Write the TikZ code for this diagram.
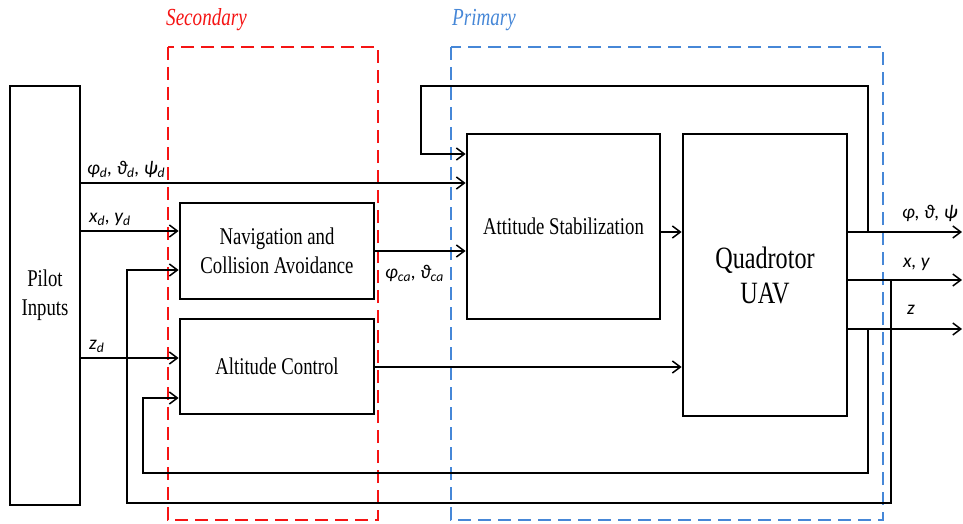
\documentclass[tikz,border=0pt]{standalone}
\usepackage{fontspec}
\setmainfont{Liberation Serif}
\newfontfamily\cond[FakeStretch=0.78]{Liberation Serif}
\newfontfamily\labf{Carlito}
\usetikzlibrary{arrows.meta}
\definecolor{secred}{RGB}{245,20,20}
\definecolor{priblue}{RGB}{70,135,215}
\begin{document}
\begin{tikzpicture}[x=1pt,y=-1pt,
 blk/.style={draw, line width=2.8pt, inner sep=0pt, align=center, font=\cond\fontsize{24}{29}\selectfont},
 conn/.style={line width=1.5pt},
 arr/.style={conn, -{Straight Barb[length=8pt,width=12pt,line width=1.5pt]}},
 zone/.style={line width=2.6pt, dash pattern=on 13pt off 7pt},
 lab/.style={inner sep=0pt, anchor=west, font=\labf\itshape\fontsize{19.5}{21}\selectfont},
 zlab/.style={inner sep=0pt, anchor=west, font=\cond\itshape\fontsize{24.5}{26}\selectfont}]
\useasboundingbox (0,0) rectangle (963,524);
% zones
\draw[zone, secred] (168,47) rectangle (378,520);
\draw[zone, priblue] (451,47) rectangle (883,520);
\node[zlab, text=secred] (seclab) at (166,20) {Secondary};
\node[zlab, text=priblue] (prilab) at (452,20) {Primary};
% blocks
\node[blk, minimum width=70pt, minimum height=419pt] (pilot) at (45,295.5) {Pilot\\Inputs};
\node[blk, minimum width=194pt, minimum height=96pt] (nav) at (277,251) {Navigation and\\Collision Avoidance};
\node[blk, minimum width=194pt, minimum height=95pt] (alt) at (277,366.5) {Altitude Control};
\node[blk, minimum width=193pt, minimum height=185pt] (att) at (563.5,226.5) {Attitude Stabilization};
\node[blk, minimum width=164pt, minimum height=282pt, font=\cond\fontsize{31}{35}\selectfont] (uav) at (765,275) {Quadrotor\\UAV};
% levels
\coordinate (yA) at (0,183);
\coordinate (yB) at (0,231);
\coordinate (yC) at (0,270);
\coordinate (yD) at (0,358);
\coordinate (yE) at (0,398);
\coordinate (yF) at (0,154);
\coordinate (yG) at (0,251);
\coordinate (yH) at (0,232);
\coordinate (yI) at (0,367);
\coordinate (e1) at (962,232);
\coordinate (e2) at (962,280);
\coordinate (e3) at (962,329);
\coordinate (b1) at (868,232);
\coordinate (c1) at (421,86);
\coordinate (b2) at (891,280);
\coordinate (c2) at (127,503);
\coordinate (b3) at (868,329);
\coordinate (c3) at (143,473);
% connectors
\draw[arr] (pilot.east |- yA) -- (att.west |- yA);
\draw[arr] (pilot.east |- yB) -- (nav.west |- yB);
\draw[arr] (pilot.east |- yD) -- (alt.west |- yD);
\draw[arr] (nav.east |- yG) -- (att.west |- yG);
\draw[arr] (att.east |- yH) -- (uav.west |- yH);
\draw[arr] (alt.east |- yI) -- (uav.west |- yI);
\draw[arr] (uav.east |- e1) -- (e1);
\draw[arr] (uav.east |- e2) -- (e2);
\draw[arr] (uav.east |- e3) -- (e3);
\draw[arr] (b1) |- (c1) |- (att.west |- yF);
\draw[arr] (b2) |- (c2) |- (nav.west |- yC);
\draw[arr] (b3) |- (c3) |- (alt.west |- yE);
% labels
\node[lab] (l1) at (87,169) {φ\textsubscript{d}, ϑ\textsubscript{d}, ψ\textsubscript{d}};
\node[lab] (l2) at (89,219) {x\textsubscript{d}, y\textsubscript{d}};
\node[lab] (l3) at (89,346) {z\textsubscript{d}};
\node[lab] (l4) at (385,273) {φ\textsubscript{ca}, ϑ\textsubscript{ca}};
\node[lab] (l5) at (902,213) {φ, ϑ, ψ};
\node[lab] (l6) at (903,264) {x, y};
\node[lab] (l7) at (907,310) {z};
\end{tikzpicture}
\end{document}
